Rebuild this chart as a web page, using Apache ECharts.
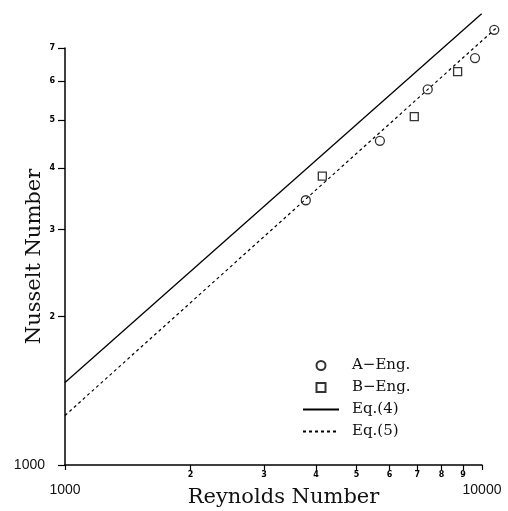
<!DOCTYPE html>
<html>
<head>
<meta charset="utf-8">
<script src="https://cdn.jsdelivr.net/npm/echarts@6/dist/echarts.min.js"></script>
<style>
  html, body { margin: 0; padding: 0; background: #fff; }
  #chart { width: 508px; height: 511px; }
</style>
</head>
<body>
<div id="chart"></div>
<script>
// Reynolds number / Nusselt number
var engA = [[3780, 3.44], [5690, 4.54], [7410, 5.77], [9620, 6.68], [10700, 7.62]];
var engB = [[4140, 3.85], [6880, 5.08], [8740, 6.27]];
var eq4 = [[1000, 1.47], [9980, 8.21]];
var eq5 = [[1000, 1.26], [10860, 7.71]];

var xTicks = [1000, 2000, 3000, 4000, 5000, 6000, 7000, 8000, 9000, 10000];
var yTicks = [1, 2, 3, 4, 5, 6, 7];

var serif = 'DejaVu Serif';
var chart = echarts.init(document.getElementById('chart'));

// the curves run a bit past Re = 10000, so they sit on a wider hidden grid
// whose log scale lines up with the visible one
var gLeft = 65, gRight = 26, gWidth = 508 - gLeft - gRight;
var extMax = 11000;
var extRight = 508 - gLeft - gWidth * Math.log10(extMax / 1000);

var hidden = { show: false };

var option = {
  backgroundColor: '#fff',
  animation: false,
  grid: [
    { left: gLeft, right: gRight, top: 48, bottom: 46, outerBoundsMode: 'none' },
    { left: gLeft, right: extRight, top: 48, bottom: 46, outerBoundsMode: 'none' }
  ],
  legend: {
    orient: 'vertical',
    left: 297, top: 353,
    itemWidth: 36, itemHeight: 9, itemGap: 7,
    textStyle: { fontFamily: serif, fontSize: 15, color: '#111', padding: [0, 0, 0, 8] },
    data: [
      { name: 'A\u2212Eng.' },
      { name: 'B\u2212Eng.', icon: 'path://M0,0h10v10h-10z' },
      { name: 'Eq.(4)' },
      { name: 'Eq.(5)' }
    ]
  },
  xAxis: [{
    type: 'log', logBase: 10, min: 1000, max: 10000,
    name: 'Reynolds Number', nameLocation: 'middle', nameGap: 22, nameMoveOverlap: false,
    nameTextStyle: { fontFamily: serif, fontSize: 21, color: '#111', padding: [0, 0, 0, 20] },
    axisLine: { lineStyle: { color: '#000', width: 1.5 } },
    axisTick: { length: 5, customValues: xTicks, lineStyle: { color: '#000', width: 1.2 } },
    splitLine: { show: false },
    minorTick: { show: false },
    axisLabel: {
      customValues: xTicks, margin: 6,
      formatter: function (v) {
        if (v === 1000 || v === 10000) return '{big|' + v + '}';
        return '{s|' + Math.round(v / 1000) + '}';
      },
      rich: {
        s: { fontSize: 8, fontWeight: 'bold', color: '#000', fontFamily: 'DejaVu Sans' },
        big: { fontSize: 14, color: '#111', fontFamily: 'Liberation Sans', padding: [12, 0, 0, 0] }
      }
    }
  }, {
    type: 'log', logBase: 10, min: 1000, max: extMax, gridIndex: 1,
    axisLine: hidden, axisTick: hidden, axisLabel: hidden, splitLine: hidden
  }],
  yAxis: [{
    type: 'log', logBase: 10, min: 1, max: 7,
    name: 'Nusselt Number', nameLocation: 'middle', nameGap: 20, nameRotate: 90, nameMoveOverlap: false,
    nameTextStyle: { fontFamily: serif, fontSize: 21, color: '#111' },
    axisLine: { lineStyle: { color: '#000', width: 1.5 } },
    axisTick: { length: 7, customValues: yTicks, lineStyle: { color: '#000', width: 1.2 } },
    splitLine: { show: false },
    minorTick: { show: false },
    axisLabel: {
      customValues: yTicks, margin: 10,
      formatter: function (v) {
        if (v === 1) return '{big|1000}';
        return '{s|' + v + '}';
      },
      rich: {
        s: { fontSize: 8, fontWeight: 'bold', color: '#000', fontFamily: 'DejaVu Sans' },
        big: { fontSize: 14, color: '#111', fontFamily: 'Liberation Sans', padding: [0, 10, 0, 0] }
      }
    }
  }, {
    type: 'log', logBase: 10, min: 1, max: 7, gridIndex: 1,
    axisLine: hidden, axisTick: hidden, axisLabel: hidden, splitLine: hidden
  }],
  series: [
    {
      name: 'A\u2212Eng.', type: 'scatter', data: engA, clip: false,
      symbol: 'circle', symbolSize: 9,
      itemStyle: { color: '#fff', borderColor: '#000', borderWidth: 1.3 }
    },
    {
      name: 'B\u2212Eng.', type: 'scatter', data: engB, clip: false,
      symbol: 'rect', symbolSize: 8,
      itemStyle: { color: '#fff', borderColor: '#000', borderWidth: 1.3 }
    },
    {
      name: 'Eq.(4)', type: 'line', data: eq4, clip: false,
      xAxisIndex: 1, yAxisIndex: 1,
      symbol: 'none', lineStyle: { color: '#000', width: 1.3 },
      itemStyle: { color: 'rgba(0,0,0,0)' }
    },
    {
      name: 'Eq.(5)', type: 'line', data: eq5, clip: false,
      xAxisIndex: 1, yAxisIndex: 1,
      symbol: 'none', lineStyle: { color: '#000', width: 1.2, type: [3, 3] },
      itemStyle: { color: 'rgba(0,0,0,0)' }
    }
  ]
};

chart.setOption(option);
</script>
</body>
</html>
